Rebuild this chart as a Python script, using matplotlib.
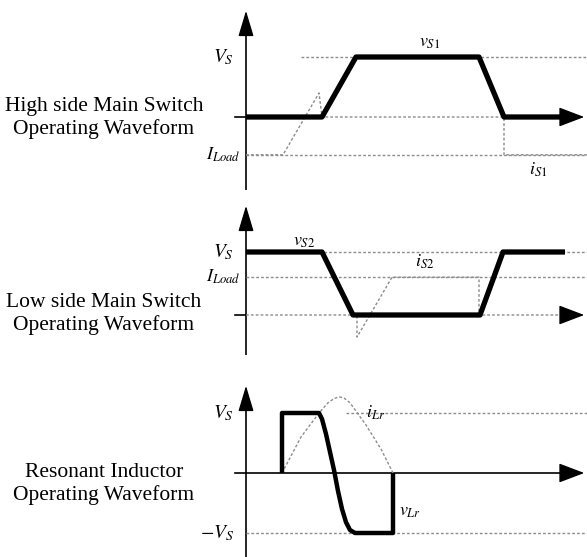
import matplotlib.pyplot as plt

plt.rcParams['mathtext.fontset'] = 'stix'
plt.rcParams['font.family'] = ['Liberation Serif', 'DejaVu Serif']

W, H = 587, 557

# high side main switch: voltage v_S1 and current i_S1 (Vs = 1)
t_vs1 = [0, 76, 110, 233, 258, 322]
v_s1 = [0, 0, 1, 1, 0, 0]
t_is1 = [0, 37, 73, 76, 258, 258, 341]
i_s1 = [-0.63, -0.63, 0.4, 0, 0, -0.63, -0.63]
iload1 = -0.63

# low side main switch: v_S2 and i_S2
t_vs2 = [0, 76, 107, 234, 257, 319]
v_s2 = [1, 1, 0, 0, 1, 1]
t_is2 = [0, 111, 111, 146, 233, 233, 321]
i_s2 = [0, 0, -0.35, 0.6, 0.6, 0, 0]
iload2 = 0.6

# resonant inductor: v_Lr and i_Lr
t_vlr = [36, 36, 73, 76, 80, 84, 88, 92, 96, 100, 104, 109, 147, 147]
v_lr = [0, 1, 1, 0.9, 0.65, 0.35, 0.05, -0.3, -0.6, -0.82, -0.95, -1, -1, 0]
t_ilr = [36, 55, 73, 82, 88, 93, 98, 104, 120, 135, 147]
i_lr = [0, 0.6, 1.0, 1.17, 1.24, 1.27, 1.25, 1.17, 0.8, 0.4, 0]

fig = plt.figure(figsize=(W / 100, H / 100), dpi=100)

GRAY = '#8c8c8c'
X0, X1 = 234, 587


def panel(top_px, bot_px, zero_px, unit_px):
    ax = fig.add_axes([X0 / W, 1 - bot_px / H, (X1 - X0) / W, (bot_px - top_px) / H])
    ax.set_xlim(X0 - 246, X1 - 246)
    ax.set_ylim(-(bot_px - zero_px) / unit_px, (zero_px - top_px) / unit_px)
    ax.axis('off')
    ytop = (zero_px - top_px) / unit_px
    ybot = -(bot_px - zero_px) / unit_px
    # vertical axis with arrow head
    ax.plot([0, 0], [ybot, ytop - 16 / unit_px], color='k', lw=1.2)
    ax.annotate('', xy=(0, ytop), xytext=(0, ytop - 18 / unit_px),
                arrowprops=dict(arrowstyle='-|>,head_length=1.0,head_width=0.3',
                                color='k', lw=1, mutation_scale=16))
    # zero tick
    ax.plot([-11, 0], [0, 0], color='k', lw=1.2)
    return ax


def xarrow(ax):
    ax.annotate('', xy=(341, 0), xytext=(320, 0),
                arrowprops=dict(arrowstyle='-|>,head_length=1.0,head_width=0.38',
                                color='k', lw=1, mutation_scale=16))


dash = dict(color=GRAY, lw=1, ls=(0, (2, 1.5)))
thick = dict(color='k', solid_joinstyle='round', solid_capstyle='butt')

# ---- panel 1
ax1 = panel(8, 190, 117, 60)
ax1.plot([55, 341], [1, 1], **dash)
ax1.plot([0, 341], [iload1, iload1], **dash)
ax1.plot(t_is1, i_s1, **dash)
ax1.plot(t_vs1, v_s1, lw=3.8, **thick)
xarrow(ax1)
ax1.text(-12, 1, '$V_S$', fontsize=14, ha='right', va='center')
ax1.text(-6, iload1, '$I_{Load}$', fontsize=13, ha='right', va='center')
ax1.text(184, 1.1, '$v_{S1}$', fontsize=13, ha='center', va='bottom')
ax1.text(292, -0.88, '$i_{S1}$', fontsize=13, ha='center', va='center')

# ---- panel 2
ax2 = panel(203, 355, 315, 63)
ax2.plot([0, 341], [1, 1], **dash)
ax2.plot([0, 341], [iload2, iload2], **dash)
ax2.plot(t_is2, i_s2, **dash)
ax2.plot(t_vs2, v_s2, lw=3.8, **thick)
xarrow(ax2)
ax2.text(-12, 1, '$V_S$', fontsize=14, ha='right', va='center')
ax2.text(-6, iload2, '$I_{Load}$', fontsize=13, ha='right', va='center')
ax2.text(58, 1.03, '$v_{S2}$', fontsize=13, ha='center', va='bottom')
ax2.text(179, 0.7, '$i_{S2}$', fontsize=13, ha='center', va='bottom')

# ---- panel 3
ax3 = panel(383, 557, 473, 60)
ax3.plot([100, 341], [1, 1], **dash)
ax3.plot([0, 341], [-1, -1], **dash)
ax3.plot([0, 320], [0, 0], color='k', lw=1.2)
ax3.plot(t_ilr, i_lr, **dash)
ax3.plot(t_vlr, v_lr, lw=3.2, **thick)
xarrow(ax3)
ax3.text(-12, 1, '$V_S$', fontsize=14, ha='right', va='center')
ax3.text(-12, -1, '$-V_S$', fontsize=14, ha='right', va='center')
ax3.text(130, 1.0, '$i_{Lr}$', fontsize=13, ha='center', va='center')
ax3.text(164, -0.65, '$v_{Lr}$', fontsize=13, ha='center', va='center')

# panel captions
captions = [('High side Main Switch\nOperating Waveform', 118),
            ('Low side Main Switch\nOperating Waveform', 314),
            ('Resonant Inductor\nOperating Waveform', 484)]
for txt, ypx in captions:
    fig.text(104 / W, 1 - ypx / H, txt, fontsize=15.5, ha='center', va='center',
             linespacing=1.25)

fig.savefig('out.png', dpi=100)
